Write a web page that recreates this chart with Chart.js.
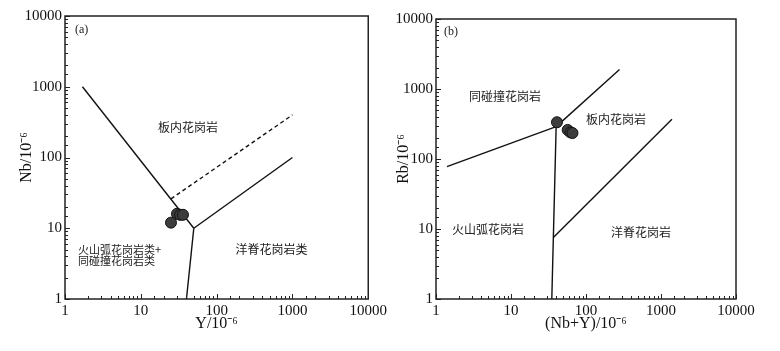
<!DOCTYPE html>
<html>
<head>
<meta charset="utf-8">
<script src="https://cdn.jsdelivr.net/npm/chart.js@4"></script>
<style>
body { margin: 0; background: #fff; }
.box { position: absolute; top: 0; width: 390px; height: 351px; }
</style>
</head>
<body>
<div class="box" style="left:0"><canvas id="chart-a" width="390" height="351"></canvas></div>
<div class="box" style="left:390px"><canvas id="chart-b" width="390" height="351"></canvas></div>
<script>
// (a) Nb - Y samples
var sampleY = [30, 33, 36, 25];
var sampleNb = [16, 15.5, 15.5, 12];
// (a) boundaries
var aLeftX = [1.7, 50], aLeftY = [1000, 10];
var aRightX = [50, 1000], aRightY = [10, 100];
var aDownX = [50, 40], aDownY = [10, 1];
var aDashX = [25, 1000], aDashY = [26, 400];

// (b) Rb - (Nb+Y) samples
var sampleNbY = [41, 57, 62, 66];
var sampleRb = [335, 260, 240, 235];
// (b) boundaries
var bLeftX = [1.4, 40], bLeftY = [78, 290];
var bUpX = [40, 280], bUpY = [290, 1900];
var bDownX = [40, 35], bDownY = [290, 1];
var bOrgX = [37, 1400], bOrgY = [7.6, 370];

var tickVals = [1, 10, 100, 1000, 10000];

var SERIF = "'Liberation Serif', 'Times New Roman', serif";
var CJK = "'Noto Sans CJK SC', sans-serif";

function pts(xs, ys) {
  return xs.map(function (x, i) { return { x: x, y: ys[i] }; });
}

function isDecade(v) {
  var l = Math.log10(v);
  return Math.abs(l - Math.round(l)) < 1e-9;
}

function boundary(xs, ys, dashed) {
  return {
    data: pts(xs, ys), showLine: true, pointRadius: 0,
    borderColor: '#111', borderWidth: 1.4, borderDash: dashed ? [4, 3] : [],
    fill: false
  };
}

function samples(xs, ys) {
  return {
    data: pts(xs, ys), pointRadius: 5.5, pointBackgroundColor: '#3d3d3d',
    pointBorderColor: '#111', pointBorderWidth: 1
  };
}

function logAxis(pos, title, size, titlePad) {
  return {
    type: 'logarithmic', position: pos, min: 1, max: 10000,
    grid: { display: false, drawTicks: false },
    border: { display: false },
    title: { display: true, text: title, color: '#111', font: { family: SERIF, size: 16 }, padding: titlePad },
    ticks: {
      autoSkip: false, maxRotation: 0, padding: 3, color: '#111',
      font: { family: SERIF, size: 15 },
      callback: function (v) { return tickVals.indexOf(v) >= 0 ? String(v) : ''; }
    },
    afterFit: function (s) {
      if (pos === 'left') s.width = size; else s.height = size;
    }
  };
}

var frame = {
  id: 'frame',
  afterDraw: function (chart) {
    var ctx = chart.ctx, a = chart.chartArea;
    var xs = chart.scales.x, ys = chart.scales.y;
    ctx.save();
    ctx.strokeStyle = '#222';
    ctx.lineWidth = 1;
    ctx.beginPath();
    xs.ticks.forEach(function (t) {
      var p = Math.round(xs.getPixelForValue(t.value)) + 0.5;
      var len = isDecade(t.value) ? 5 : 3;
      ctx.moveTo(p, a.bottom); ctx.lineTo(p, a.bottom - len);
    });
    ys.ticks.forEach(function (t) {
      var p = Math.round(ys.getPixelForValue(t.value)) + 0.5;
      var len = isDecade(t.value) ? 5 : 3;
      ctx.moveTo(a.left, p); ctx.lineTo(a.left + len, p);
    });
    ctx.stroke();
    ctx.lineWidth = 1.5;
    ctx.strokeRect(a.left, a.top, a.right - a.left, a.bottom - a.top);

    var notes = chart.options.plugins.frame.notes;
    ctx.fillStyle = '#222';
    ctx.textAlign = 'left';
    ctx.textBaseline = 'middle';
    notes.forEach(function (n) {
      ctx.font = (n.size || 12) + 'px ' + (n.serif ? SERIF : CJK);
      ctx.fillText(n.text, xs.getPixelForValue(n.x), ys.getPixelForValue(n.y));
    });
    ctx.restore();
  }
};

function makeChart(id, sets, xTitle, yTitle, pad, yWidth, yTitlePad, notes) {
  return new Chart(document.getElementById(id), {
    type: 'scatter',
    data: { datasets: sets },
    options: {
      responsive: false,
      animation: false,
      layout: { padding: pad },
      plugins: { legend: { display: false }, tooltip: { enabled: false }, frame: { notes: notes } },
      scales: {
        x: logAxis('bottom', xTitle, 52, { top: 0, bottom: 18 }),
        y: logAxis('left', yTitle, yWidth, { top: yTitlePad, bottom: 0 })
      }
    },
    plugins: [frame]
  });
}

makeChart('chart-a', [
  samples(sampleY, sampleNb),
  boundary(aLeftX, aLeftY), boundary(aRightX, aRightY),
  boundary(aDownX, aDownY), boundary(aDashX, aDashY, true)
], 'Y/10⁻⁶', 'Nb/10⁻⁶', { left: 0, right: 19, top: 16, bottom: 0 }, 65, 17, [
  { text: '(a)', x: 1.35, y: 6340, serif: true },
  { text: '板内花岗岩', x: 16.9, y: 270 },
  { text: '火山弧花岗岩类+', x: 1.48, y: 4.93, size: 11 },
  { text: '同碰撞花岗岩类', x: 1.48, y: 3.44, size: 11 },
  { text: '洋脊花岗岩类', x: 177, y: 5.09 }
]);

makeChart('chart-b', [
  samples(sampleNbY, sampleRb),
  boundary(bLeftX, bLeftY), boundary(bUpX, bUpY),
  boundary(bDownX, bDownY), boundary(bOrgX, bOrgY)
], '(Nb+Y)/10⁻⁶', 'Rb/10⁻⁶', { left: 0, right: 44, top: 19, bottom: 0 }, 46, 4, [
  { text: '(b)', x: 1.28, y: 6520, serif: true },
  { text: '同碰撞花岗岩', x: 2.75, y: 794 },
  { text: '板内花岗岩', x: 100, y: 373 },
  { text: '火山弧花岗岩', x: 1.63, y: 10 },
  { text: '洋脊花岗岩', x: 215, y: 9.06 }
]);
</script>
</body>
</html>
